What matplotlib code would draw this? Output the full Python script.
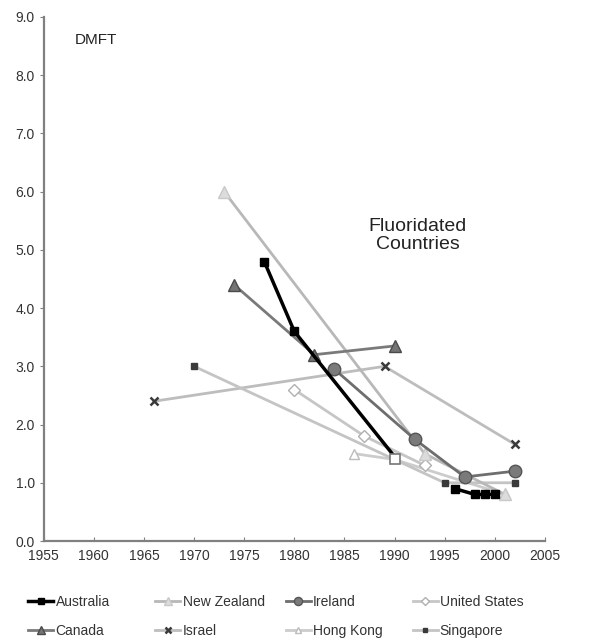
import numpy as np
import matplotlib
matplotlib.use("Agg")
import matplotlib.pyplot as plt
import matplotlib.lines as mlines

plt.rcParams['font.family'] = ['Liberation Sans', 'DejaVu Sans']

# Data (year, DMFT)
aus_years = [1977, 1980, 1990, np.nan, 1996, 1998, 1999, 2000]
aus_vals = [4.8, 3.6, 1.45, np.nan, 0.9, 0.8, 0.8, 0.8]
nz_years = [1973, 1993, 2001]
nz_vals = [6.0, 1.5, 0.8]
ire_years = [1984, 1992, 1997, 2002]
ire_vals = [2.95, 1.75, 1.1, 1.2]
us_years = [1980, 1987, 1993]
us_vals = [2.6, 1.8, 1.3]
can_years = [1974, 1982, 1990]
can_vals = [4.4, 3.2, 3.35]
isr_years = [1966, 1989, 2002]
isr_vals = [2.4, 3.0, 1.66]
hk_years = [1986, 1990, 2001]
hk_vals = [1.5, 1.4, 0.8]
sin_years = [1970, 1990, 1995, 2002]
sin_vals = [3.0, 1.4, 1.0, 1.0]

x_ticks = list(range(1955, 2006, 5))
y_ticks = [0, 1, 2, 3, 4, 5, 6, 7, 8, 9]

fig = plt.figure(figsize=(5.91, 6.41), dpi=100)
ax = fig.add_axes([0.074, 0.156, 0.848, 0.8175])

lw = 2.0
ax.plot(isr_years, isr_vals, color='#bdbdbd', lw=lw, marker='x', ms=6, mew=1.8,
        mec='#3a3a3a', label='Israel', zorder=2)
ax.plot(hk_years, hk_vals, color='#cccccc', lw=lw, marker='^', ms=7,
        mfc='white', mec='#bcbcbc', label='Hong Kong', zorder=2, markevery=[0, 2])
ax.plot(us_years, us_vals, color='#c6c6c6', lw=lw, marker='D', ms=6,
        mfc='white', mec='#b0b0b0', label='United States', zorder=3)
ax.plot(nz_years, nz_vals, color='#b8b8b8', lw=lw, marker='^', ms=8,
        mfc='#dcdcdc', mec='#c8c8c8', label='New Zealand', zorder=3)
ax.plot(ire_years, ire_vals, color='#6e6e6e', lw=lw, marker='o', ms=9,
        mfc='#7a7a7a', mec='#555555', label='Ireland', zorder=4)
ax.plot(can_years, can_vals, color='#7a7a7a', lw=lw, marker='^', ms=9,
        mfc='#747474', mec='#4a4a4a', label='Canada', zorder=4)
ax.plot(aus_years, aus_vals, color='black', lw=2.5, marker='s', ms=6,
        mfc='black', mec='black', label='Australia', zorder=5,
        markevery=[0, 1, 4, 5, 6, 7])
ax.plot(sin_years, sin_vals, color='#c4c4c4', lw=lw, marker='s', ms=5,
        mfc='#3a3a3a', mec='#3a3a3a', label='Singapore', zorder=2)
ax.plot(sin_years[1:2], sin_vals[1:2], ls='none', marker='s', ms=6.5,
        mfc='white', mec='#777777', mew=1.2, zorder=6)

ax.set_xlim(1955, 2005)
ax.set_ylim(0, 9)
ax.set_xticks(x_ticks)
ax.set_yticks(y_ticks)
ax.set_yticklabels([f"{v:.1f}" for v in y_ticks])
for s in ['top', 'right']:
    ax.spines[s].set_visible(False)
for s in ['left', 'bottom']:
    ax.spines[s].set_color('#808080')
    ax.spines[s].set_linewidth(1.6)
ax.tick_params(axis='y', direction='out', length=3, color='#808080',
               labelsize=10, labelcolor='#333333')
ax.tick_params(axis='x', direction='in', length=3, color='#808080',
               labelsize=10, labelcolor='#333333', pad=6)

ax.text(1958.1, 8.6, 'DMFT', fontsize=11, color='#222222', ha='left', va='center')
ax.text(1992.3, 5.25, 'Fluoridated\nCountries', fontsize=14, color='#222222',
        ha='center', va='center', linespacing=1.12)

h, l = ax.get_legend_handles_labels()
hd = dict(zip(l, h))
columns = [['Australia', 'Canada'], ['New Zealand', 'Israel'],
           ['Ireland', 'Hong Kong'], ['United States', 'Singapore']]
col_x = [0.034, 0.249, 0.469, 0.684]


def mk(name):
    src = hd[name]
    return mlines.Line2D([], [], color=src.get_color(), lw=src.get_linewidth(),
                         marker=src.get_marker(), ms=src.get_markersize() * 0.65,
                         mfc=src.get_markerfacecolor(), mec=src.get_markeredgecolor(),
                         mew=src.get_markeredgewidth())


for cx, names in zip(col_x, columns):
    leg = fig.legend([mk(n) for n in names], names, loc='lower left',
                     bbox_to_anchor=(cx, -0.008), frameon=False, fontsize=10,
                     handlelength=1.8, handletextpad=0.15, borderaxespad=0.2,
                     labelspacing=1.05, labelcolor='#333333')

fig.savefig('out.png', dpi=100)
